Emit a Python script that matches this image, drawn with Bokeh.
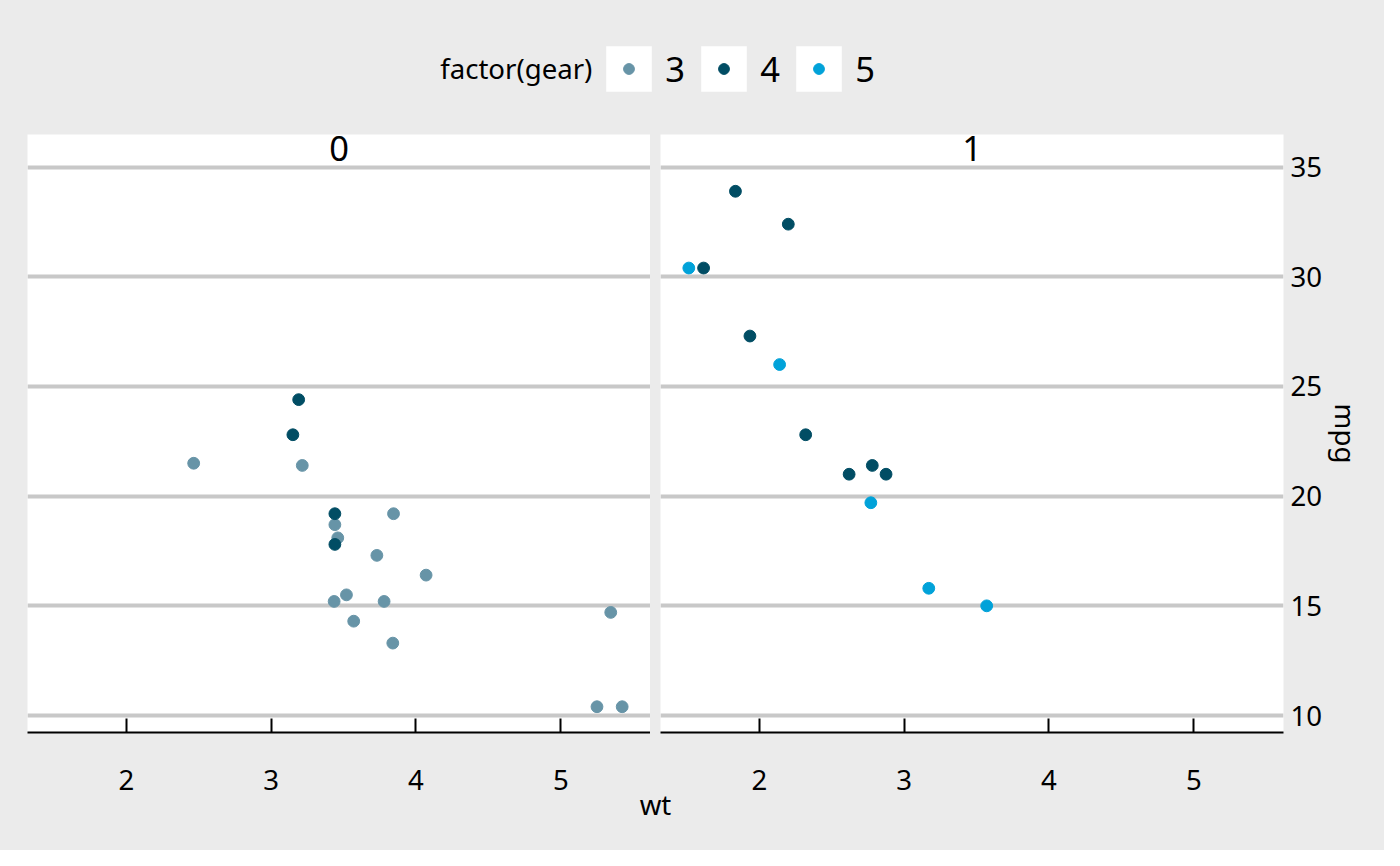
import pandas as pd
from bokeh.plotting import figure
from bokeh.models import ColumnDataSource, FixedTicker, Range1d, Label, Legend, LegendItem
from bokeh.layouts import row, column
from bokeh.transform import factor_cmap
from bokeh.embed import file_html
from bokeh.resources import INLINE

# ---- data (mtcars) ----
wt = [2.620, 2.875, 2.320, 3.215, 3.440, 3.460, 3.570, 3.190, 3.150, 3.440, 3.440,
      4.070, 3.730, 3.780, 5.250, 5.424, 5.345, 2.200, 1.615, 1.835, 2.465, 3.520,
      3.435, 3.840, 3.845, 1.935, 2.140, 1.513, 3.170, 2.770, 3.570, 2.780]
mpg = [21.0, 21.0, 22.8, 21.4, 18.7, 18.1, 14.3, 24.4, 22.8, 19.2, 17.8,
       16.4, 17.3, 15.2, 10.4, 10.4, 14.7, 32.4, 30.4, 33.9, 21.5, 15.5,
       15.2, 13.3, 19.2, 27.3, 26.0, 30.4, 15.8, 19.7, 15.0, 21.4]
am = [1, 1, 1, 0, 0, 0, 0, 0, 0, 0, 0, 0, 0, 0, 0, 0, 0, 1, 1, 1, 0, 0,
      0, 0, 0, 1, 1, 1, 1, 1, 1, 1]
gear = [4, 4, 4, 3, 3, 3, 3, 4, 4, 4, 4, 3, 3, 3, 3, 3, 3, 4, 4, 4, 3, 3,
        3, 3, 3, 4, 5, 5, 5, 5, 5, 4]

gear_levels = ["3", "4", "5"]
gear_colors = ["#6794a7", "#014d64", "#01a2d9"]
facet_levels = [0, 1]
x_ticks = [2, 3, 4, 5]
y_ticks = [10, 15, 20, 25, 30, 35]

# ---- style / layout constants ----
BG = "#EBEBEB"
GRID = "#C8C8C8"
FONT = "Noto Sans"
BASE_PX = 27.6
BIG_PX = 34.5
BASE = f"{BASE_PX}px"
BIG = f"{BIG_PX}px"
BL_FIX = 0.4          # label baseline correction (fraction of font size)
W_TOTAL = 1384
H_TOTAL = 850
LEFT_B = 27
FRAME_W = 623
GAP = 10
RIGHT_B = W_TOTAL - LEFT_B - 2 * FRAME_W - GAP
FRAME_TOP = 134       # y of the panels' top edge (page px)
TOP_B = 12            # grey band above the panels inside the panel figures
TOP_H = FRAME_TOP - TOP_B
FRAME_H = 598
BOTTOM_B = 68
XLAB_OVERLAP = 16
ROW_END = FRAME_TOP + FRAME_H + BOTTOM_B
XLAB_H = H_TOTAL - ROW_END + XLAB_OVERLAP
STRIP_PX = 31

df = pd.DataFrame({"wt": wt, "mpg": mpg, "am": am, "gear": gear})
df["gear_f"] = df["gear"].astype(str)

xspan = df.wt.max() - df.wt.min()
xlo, xhi = df.wt.min() - 0.05 * xspan, df.wt.max() + 0.05 * xspan
yspan = df.mpg.max() - df.mpg.min()
ylo, yhi = df.mpg.min() - 0.05 * yspan, df.mpg.max() + 0.05 * yspan
panel_px = FRAME_H - STRIP_PX
pxu = panel_px / (yhi - ylo)
ytop = yhi + STRIP_PX / pxu

x_range = Range1d(xlo, xhi)
y_range = Range1d(ylo, ytop)

panels = []
for i, a in enumerate(facet_levels):
    last = i == len(facet_levels) - 1
    bl = LEFT_B if i == 0 else GAP
    br = RIGHT_B if last else 0
    p = figure(width=bl + FRAME_W + br, height=TOP_B + FRAME_H + BOTTOM_B,
               x_range=x_range, y_range=y_range,
               output_backend="svg", toolbar_location=None,
               y_axis_location="right" if last else None,
               min_border_left=bl, min_border_right=br,
               min_border_top=TOP_B, min_border_bottom=BOTTOM_B)
    p.background_fill_color = "white"
    p.border_fill_color = BG
    p.outline_line_color = None

    src = ColumnDataSource(df[df.am == a])
    p.scatter("wt", "mpg", source=src, size=11.8,
              color=factor_cmap("gear_f", gear_colors, gear_levels))

    p.xgrid.visible = False
    p.ygrid.ticker = FixedTicker(ticks=y_ticks)
    p.ygrid.grid_line_color = GRID
    p.ygrid.grid_line_width = 4

    xa = p.xaxis[0]
    xa.ticker = FixedTicker(ticks=x_ticks)
    xa.axis_line_color = "black"
    xa.axis_line_width = 2
    xa.major_tick_line_color = "black"
    xa.major_tick_line_width = 2
    xa.major_tick_in = 14
    xa.major_tick_out = 0
    xa.minor_tick_line_color = None
    xa.major_label_standoff = 37
    xa.major_label_text_font = FONT
    xa.major_label_text_font_size = BASE
    xa.major_label_text_color = "black"

    if last:
        ya = p.yaxis[0]
        ya.ticker = FixedTicker(ticks=y_ticks)
        ya.axis_line_color = None
        ya.major_tick_line_color = None
        ya.minor_tick_line_color = None
        ya.major_tick_in = 0
        ya.major_tick_out = 0
        ya.major_label_standoff = 7
        ya.major_label_text_font = FONT
        ya.major_label_text_font_size = BASE
        ya.major_label_text_color = "black"
        ya.axis_label = "mpg"
        ya.axis_label_standoff = 2
        ya.axis_label_text_font = FONT
        ya.axis_label_text_font_size = BASE
        ya.axis_label_text_font_style = "normal"
        ya.axis_label_text_color = "black"

    # facet strip label (baseline 28px below the panel top)
    p.add_layout(Label(x=(xlo + xhi) / 2, y=ytop - (28 - BL_FIX * BIG_PX) / pxu,
                       text=str(a), text_align="center", text_baseline="alphabetic",
                       text_font=FONT, text_font_size=BIG, text_color="black"))
    panels.append(p)

# ---- legend figure ----
lf = figure(width=W_TOTAL, height=TOP_H, x_range=Range1d(0, 1), y_range=Range1d(0, 1),
            output_backend="svg", toolbar_location=None,
            x_axis_location=None, y_axis_location=None,
            min_border_left=0, min_border_right=0, min_border_top=0, min_border_bottom=0)
lf.background_fill_color = BG
lf.border_fill_color = BG
lf.outline_line_color = None
lf.grid.visible = False

items_a, items_b = [], []
for g, c in zip(gear_levels, gear_colors):
    sg = ColumnDataSource(df[df.gear_f == g])
    rr = lf.rect("wt", "mpg", width=0.1, height=0.1, source=sg,
                 fill_color="white", line_color=None, visible=False)
    dr = lf.scatter("wt", "mpg", source=sg, size=12, color=c, visible=False)
    items_a.append(LegendItem(label=g, renderers=[rr]))
    items_b.append(LegendItem(label=g, renderers=[dr]))

C0 = 628.7        # centre x of first key
CY = 68.2         # centre y of keys (from top)
PITCH = 95
GA = 57
GB = 27

leg_a = Legend(items=items_a, orientation="horizontal",
               location=(C0 - GA / 2, TOP_H - (CY + GA / 2)),
               glyph_width=GA, glyph_height=GA, label_standoff=8,
               label_width=22, label_height=GA, spacing=PITCH - GA - 8 - 22,
               padding=0, margin=0, background_fill_alpha=0, border_line_color=None,
               label_text_font=FONT, label_text_font_size=BIG, label_text_color="black")
leg_b = Legend(items=items_b, orientation="horizontal",
               location=(C0 - GB / 2, TOP_H - (CY + GB / 2)),
               glyph_width=GB, glyph_height=GB, label_standoff=20,
               label_width=22, label_height=GB, spacing=PITCH - GB - 20 - 22,
               padding=0, margin=0, background_fill_alpha=0, border_line_color=None,
               label_text_font=FONT, label_text_font_size="1px", label_text_alpha=0)
lf.add_layout(leg_a)
lf.add_layout(leg_b)
title_baseline = 78.5
lf.add_layout(Label(x=C0 - GA * 0.4 - 14, y=TOP_H - (title_baseline - BL_FIX * BASE_PX),
                    x_units="screen", y_units="screen",
                    text="factor(gear)", text_align="right", text_baseline="alphabetic",
                    text_font=FONT, text_font_size=BASE, text_color="black"))

# ---- x axis title figure (transparent, slightly overlapping the panels' bottom band) ----
xf = figure(width=W_TOTAL, height=XLAB_H, x_range=Range1d(0, 1), y_range=Range1d(0, 1),
            output_backend="svg", toolbar_location=None,
            x_axis_location=None, y_axis_location=None,
            min_border_left=0, min_border_right=0, min_border_top=0, min_border_bottom=0)
xf.background_fill_alpha = 0
xf.border_fill_alpha = 0
xf.outline_line_color = None
xf.grid.visible = False
xf.margin = (-XLAB_OVERLAP, 0, 0, 0)
center_x = LEFT_B + (2 * FRAME_W + GAP) / 2
wt_baseline = 815     # page px
wt_from_top = wt_baseline - (ROW_END - XLAB_OVERLAP)
xf.add_layout(Label(x=center_x, y=XLAB_H - (wt_from_top - BL_FIX * BASE_PX),
                    x_units="screen", y_units="screen",
                    text="wt", text_align="center", text_baseline="alphabetic",
                    text_font=FONT, text_font_size=BASE, text_color="black"))

layout = column(lf, row(*panels, spacing=0), xf, spacing=0)
layout.background = BG

html = file_html(layout, INLINE)
html = html.replace("<body>", '<body style="background-color:#EBEBEB;">', 1)
open("out.html", "w").write(html)
